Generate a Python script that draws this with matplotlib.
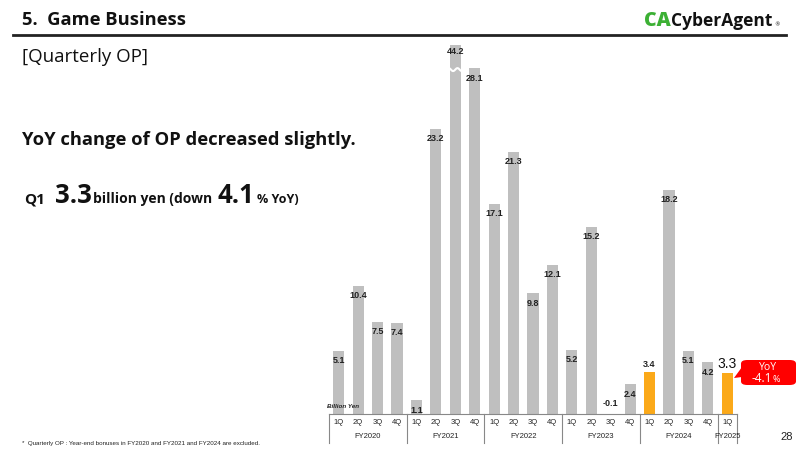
import numpy as np
import matplotlib
matplotlib.use('Agg')
import matplotlib.pyplot as plt
from matplotlib.patches import FancyBboxPatch, Polygon

# ---- data
quarters = ['1Q', '2Q', '3Q', '4Q'] * 5 + ['1Q']
fiscal_years = ['FY2020', 'FY2021', 'FY2022', 'FY2023', 'FY2024', 'FY2025']
quarters_per_year = [4, 4, 4, 4, 4, 1]
op_values = [5.1, 10.4, 7.5, 7.4,
             1.1, 23.2, 44.2, 28.1,
             17.1, 21.3, 9.8, 12.1,
             5.2, 15.2, -0.1, 2.4,
             3.4, 18.2, 5.1, 4.2,
             3.3]
highlight = [16, 20]     # Q1 FY2024 and Q1 FY2025
break_at = 30.0          # the 44.2 bar is drawn cut off

W, H = 800, 450
GREY = '#bfbfbf'
ORANGE = '#fba919'
HEAD = 'Open Sans'
NUM = 'Liberation Sans'

fig = plt.figure(figsize=(8, 4.5), dpi=100)
renderer = fig.canvas.get_renderer()

def px(x, y):
    return x / W, 1 - y / H

def run_text(x, y, parts, **kw):
    # lay text pieces side by side, return right edge in px
    for s, size, extra in parts:
        t = fig.text(*px(x, y), s, fontsize=size, va='baseline', **kw, **extra)
        x += t.get_window_extent(renderer).width
    return x

# ---- header
fig.text(*px(22, 20), '5.  Game Business', fontsize=13.2, fontweight='bold',
         family=HEAD, va='center', color='#111')
fig.add_artist(plt.Line2D([13 / W, 786 / W], [1 - 35 / H] * 2, color='#222', lw=2))
fig.text(*px(22, 57), '[Quarterly OP]', fontsize=13.5, family=HEAD,
         fontweight='normal', va='center', color='#111')
xe = run_text(644, 26, [('CA', 14, dict(color='#3cb034', fontweight='heavy')),
                        ('CyberAgent', 12.5, dict(color='#111', fontweight='bold'))],
              family=HEAD)
fig.text(*px(xe + 2, 26), '®', fontsize=4, color='#111', va='baseline')

fig.text(*px(22, 140), 'YoY change of OP decreased slightly.', fontsize=13.2,
         fontweight='bold', family=HEAD, va='center', color='#111')

q1_line = [(24, 'Q1', 11), (55, '3.3', 18.5), (93, 'billion yen (down', 10),
           (217, '4.1', 18.5), (257, '% YoY)', 9)]
for x0, s, size in q1_line:
    fig.text(*px(x0, 203), s, fontsize=size, fontweight='bold', family=HEAD,
             va='baseline', color='#111')

fig.text(*px(22, 443), '*  Quarterly OP : Year-end bonuses in FY2020 and FY2021 and FY2024 are excluded.',
         fontsize=4.5, family=NUM, va='center', color='#222')
fig.text(*px(793, 437), '28', fontsize=8, family=NUM, ha='right', va='center', color='#222')

# ---- bar chart
left, right, base, top = 329, 737, 414, 30
ax = fig.add_axes([left / W, 1 - base / H, (right - left) / W, (base - top) / H])
ax.axis('off')
n = len(op_values)
idx = np.arange(n)
heights = [min(v, break_at) for v in op_values]
colors = [ORANGE if i in highlight else GREY for i in idx]
ax.bar(idx, heights, width=0.58, color=colors, clip_on=False)
ax.set_xlim(-0.5, n - 0.5)
ax.set_ylim(0, (base - top) / 12.3)

# break mark on the cut bar
ib = op_values.index(44.2)
xs = np.linspace(ib - 0.45, ib + 0.45, 30)
ax.plot(xs, 28.0 + 0.12 * np.sin((xs - ib) * 14), color='white', lw=1.5)

lab = dict(fontsize=6.5, fontweight='bold', family=NUM, color='#222', ha='center')
for i, v in enumerate(op_values):
    if i == n - 1:
        ax.annotate(f'{v:.1f}', (i, heights[i]), xytext=(0, 2), textcoords='offset points',
                    ha='center', va='bottom', fontsize=10, family=NUM, color='#111')
    elif i in highlight:
        ax.annotate(f'{v:.1f}', (i, heights[i]), xytext=(0, 2), textcoords='offset points',
                    va='bottom', **lab)
    elif v < 0:
        ax.annotate(f'{v:.1f}', (i, 0), xytext=(0, 4), textcoords='offset points',
                    va='bottom', **lab)
    else:
        off = -4.5 if i == ib else -7
        ax.annotate(f'{v:.1f}', (i, heights[i]), xytext=(0, off), textcoords='offset points',
                    va='center', **lab)

ax.text(-0.62, 0.6, 'Billion Yen', fontsize=4.5, fontstyle='italic', fontweight='bold',
        family=NUM, ha='left', va='center', color='#222')

# category table under the bars
tr = ax.get_xaxis_transform()
row_h = (base - top)
y_q = -(423 - base) / row_h
y_fy = -(437 - base) / row_h
y_end = -(443 - base) / row_h
ax.plot([-0.5, n - 0.5], [0, 0], color='#888', lw=0.8, transform=tr, clip_on=False)
for i, q in enumerate(quarters):
    ax.text(i, y_q, q, transform=tr, fontsize=5.5, family=NUM, ha='center', va='center', color='#222')
start = 0
for fy, k in zip(fiscal_years, quarters_per_year):
    ax.plot([start - 0.5] * 2, [0, y_end], color='#888', lw=0.8, transform=tr, clip_on=False)
    ax.text(start + (k - 1) / 2, y_fy, fy, transform=tr, fontsize=5.5, family=NUM,
            ha='center', va='center', color='#222')
    start += k
ax.plot([start - 0.5] * 2, [0, y_end], color='#888', lw=0.8, transform=tr, clip_on=False)

# YoY callout
bx0, by0, bx1, by1 = 741, 360, 796, 385
box = FancyBboxPatch((bx0 / W, 1 - by1 / H), (bx1 - bx0) / W, (by1 - by0) / H,
                     boxstyle='round,pad=0,rounding_size=0.008', transform=fig.transFigure,
                     facecolor='#ff0000', edgecolor='none')
fig.add_artist(box)
tail = Polygon([px(742, 367), px(742, 377), px(734, 378)], closed=True,
               transform=fig.transFigure, facecolor='#ff0000', edgecolor='none')
fig.add_artist(tail)
fig.text(*px(768, 367), 'YoY', fontsize=7.5, family=HEAD, color='white', ha='center', va='center')
run_text(752, 382, [('-4.1', 8.5, {}), ('%', 6.5, {})], family=HEAD, color='white')

fig.savefig('out.png', dpi=100)
